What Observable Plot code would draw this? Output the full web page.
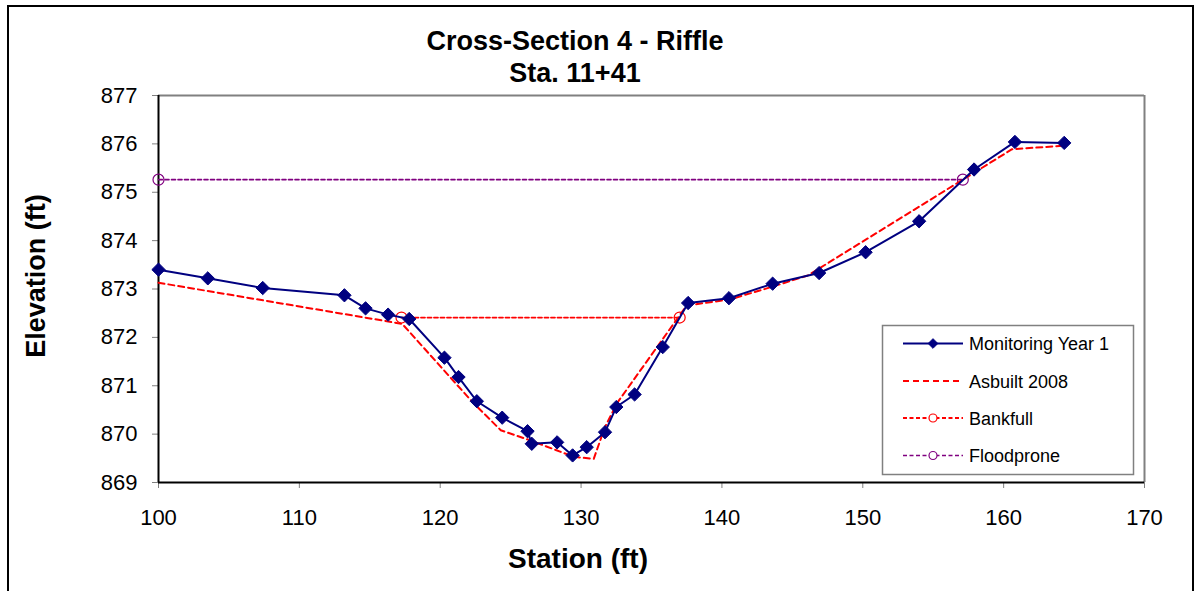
<!DOCTYPE html>
<html>
<head>
<meta charset="utf-8">
<script src="https://cdn.jsdelivr.net/npm/d3@7"></script>
<script src="https://cdn.jsdelivr.net/npm/@observablehq/plot@0.6"></script>
<style>
  html, body { margin: 0; padding: 0; background: #fff; }
  svg { display: block; }
</style>
</head>
<body>
<div id="chart"></div>
<script>
// ---- Data ----
const titleLines = ["Cross-Section 4 - Riffle", "Sta. 11+41"];
const xLabel = "Station (ft)";
const yLabel = "Elevation (ft)";
const xTicks = [100, 110, 120, 130, 140, 150, 160, 170];
const yTicks = [869, 870, 871, 872, 873, 874, 875, 876, 877];

const seriesNames = ["Monitoring Year 1", "Asbuilt 2008", "Bankfull", "Floodprone"];

const monStation = [100.0, 103.5, 107.4, 113.2, 114.7, 116.3, 117.8, 120.3, 121.3, 122.6, 124.4, 126.2, 126.5, 128.3, 129.4, 130.4, 131.7, 132.5, 133.8, 135.8, 137.6, 140.5, 143.6, 146.9, 150.2, 154.0, 157.9, 160.8, 164.3];
const monElev    = [873.40, 873.22, 873.02, 872.87, 872.60, 872.47, 872.38, 871.58, 871.18, 870.68, 870.34, 870.06, 869.80, 869.83, 869.56, 869.73, 870.04, 870.56, 870.82, 871.80, 872.71, 872.81, 873.11, 873.33, 873.76, 874.40, 875.47, 876.04, 876.02];

const asbStation = [100.0, 117.3, 122.3, 124.3, 126.4, 129.5, 130.9, 131.7, 132.6, 137.5, 140.5, 143.5, 146.1, 160.6, 164.2];
const asbElev    = [873.13, 872.28, 870.66, 870.08, 869.87, 869.53, 869.49, 870.15, 870.66, 872.66, 872.78, 873.04, 873.28, 875.89, 875.96];

const bankStation = [117.25, 137.0];
const bankElev    = [872.41, 872.41];

const floodStation = [100.0, 157.1];
const floodElev    = [875.26, 875.26];

// ---- Build tables ----
const zipPts = (xs, ys) => xs.map((x, i) => ({x, y: ys[i]}));
const mon = zipPts(monStation, monElev);
const asb = zipPts(asbStation, asbElev);
const bank = zipPts(bankStation, bankElev);
const flood = zipPts(floodStation, floodElev);

const NAVY = "#000080", RED = "#FF0000", PURPLE = "#800080", GRAY = "#808080";
const FONT = "'Liberation Sans', Arial, Helvetica, sans-serif";

const W = 1196, H = 591;
const plot = Plot.plot({
  width: W,
  height: H,
  marginLeft: 158,
  marginRight: 52,
  marginTop: 95,
  marginBottom: 109,
  style: {fontFamily: FONT, background: "#fff", color: "#000", overflow: "visible"},
  x: {domain: [100, 170]},
  y: {domain: [869, 877]},
  marks: [
    Plot.ruleY([877], {stroke: GRAY, strokeWidth: 2}),
    Plot.ruleX([170], {stroke: GRAY, strokeWidth: 2}),
    Plot.axisY({ticks: yTicks, tickSize: 6, tickPadding: 15, fontSize: 22, stroke: GRAY, fill: "#000", label: null, tickFormat: d => String(d)}),
    Plot.axisX({ticks: xTicks, tickSize: 6, tickPadding: 21, fontSize: 22, stroke: GRAY, fill: "#000", label: null, tickFormat: d => String(d)}),
    Plot.ruleX([100], {stroke: "#000", strokeWidth: 2}),
    Plot.ruleY([869], {stroke: "#000", strokeWidth: 2}),
    // Floodprone
    Plot.line(flood, {x: "x", y: "y", stroke: PURPLE, strokeWidth: 1.6, strokeDasharray: "4,2.5"}),
    Plot.dot(flood, {x: "x", y: "y", r: 5.5, stroke: PURPLE, strokeWidth: 1.2, fill: "none"}),
    // Bankfull
    Plot.line(bank, {x: "x", y: "y", stroke: RED, strokeWidth: 1.8, strokeDasharray: "4,2.5"}),
    Plot.dot(bank, {x: "x", y: "y", r: 5.5, stroke: RED, strokeWidth: 1.2, fill: "none"}),
    // Asbuilt
    Plot.line(asb, {x: "x", y: "y", stroke: RED, strokeWidth: 2, strokeDasharray: "6,4"}),
    // Monitoring
    Plot.line(mon, {x: "x", y: "y", stroke: NAVY, strokeWidth: 2}),
    Plot.dot(mon, {x: "x", y: "y", symbol: "diamond2", r: 6, fill: NAVY, stroke: NAVY, strokeWidth: 1})
  ]
});

document.getElementById("chart").appendChild(plot);
const svg = d3.select(plot);

// Outer border
svg.append("rect")
  .attr("x", 8).attr("y", 6).attr("width", 1185).attr("height", 620)
  .attr("fill", "none").attr("stroke", "#000").attr("stroke-width", 2);

// Title
svg.append("text").text(titleLines[0])
  .attr("x", 575).attr("y", 50).attr("text-anchor", "middle")
  .attr("font-family", FONT).attr("font-weight", "bold").attr("font-size", 27).attr("fill", "#000");
svg.append("text").text(titleLines[1])
  .attr("x", 575).attr("y", 82).attr("text-anchor", "middle")
  .attr("font-family", FONT).attr("font-weight", "bold").attr("font-size", 27).attr("fill", "#000");

// Axis titles
svg.append("text").text(xLabel)
  .attr("x", 578).attr("y", 568).attr("text-anchor", "middle")
  .attr("font-family", FONT).attr("font-weight", "bold").attr("font-size", 28).attr("fill", "#000");
svg.append("text").text(yLabel)
  .attr("transform", "translate(45,276) rotate(-90)").attr("text-anchor", "middle")
  .attr("font-family", FONT).attr("font-weight", "bold").attr("font-size", 27).attr("fill", "#000");

// Legend
const lg = svg.append("g");
lg.append("rect").attr("x", 882.5).attr("y", 325.5).attr("width", 251).attr("height", 149)
  .attr("fill", "#fff").attr("stroke", GRAY).attr("stroke-width", 1.5);
const rowsY = [343.5, 381, 418, 455.5];
const styles = [
  {stroke: NAVY, dash: null, width: 2, marker: "diamond"},
  {stroke: RED, dash: "6,4", width: 2, marker: null},
  {stroke: RED, dash: "4,2.5", width: 1.8, marker: "circle"},
  {stroke: PURPLE, dash: "4,2.5", width: 1.6, marker: "circle"}
];
seriesNames.forEach((name, i) => {
  const y = rowsY[i], s = styles[i];
  const ln = lg.append("line").attr("x1", 903).attr("x2", 963).attr("y1", y).attr("y2", y)
    .attr("stroke", s.stroke).attr("stroke-width", s.width);
  if (s.dash) ln.attr("stroke-dasharray", s.dash);
  if (s.marker === "diamond") {
    lg.append("path").attr("d", d3.symbol(d3.symbolDiamond2, 60)()).attr("transform", `translate(933,${y})`)
      .attr("fill", NAVY).attr("stroke", NAVY);
  } else if (s.marker === "circle") {
    lg.append("circle").attr("cx", 933).attr("cy", y).attr("r", 4)
      .attr("fill", "#fff").attr("stroke", s.stroke).attr("stroke-width", 1.2);
  }
  lg.append("text").text(name).attr("x", 969).attr("y", y + 6.5).attr("text-anchor", "start")
    .attr("font-family", FONT).attr("font-size", 18).attr("fill", "#000");
});
</script>
</body>
</html>
